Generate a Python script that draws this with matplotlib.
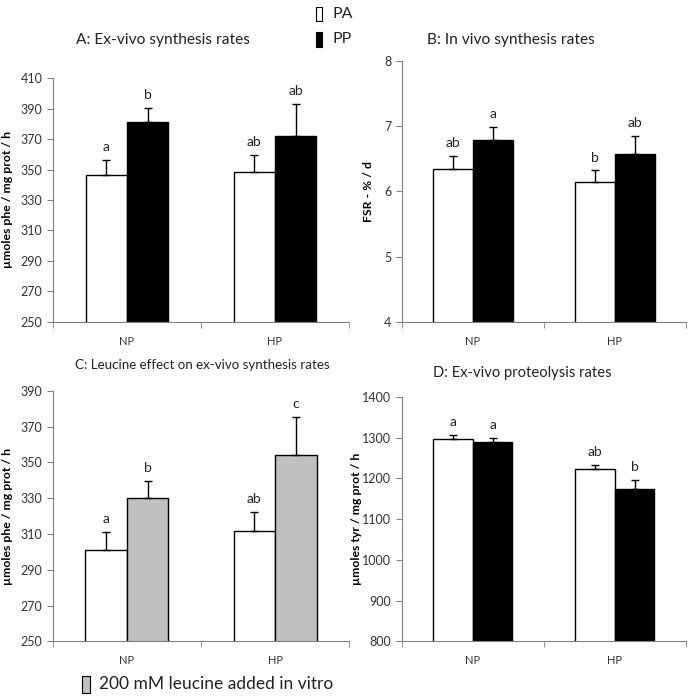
import numpy as np
import matplotlib
matplotlib.use("Agg")
import matplotlib.pyplot as plt
from matplotlib.patches import Rectangle

plt.rcParams['font.family'] = ['Lato', 'DejaVu Sans']

groups = ['NP', 'HP']

# A: ex-vivo synthesis
a_pa = [346.5, 348.3]
a_pa_err = [9.5, 11.0]
a_pp = [381.0, 372.0]
a_pp_err = [9.5, 21.0]
a_lab_pa = ['a', 'ab']
a_lab_pp = ['b', 'ab']

# B: in vivo synthesis
b_pa = [6.35, 6.14]
b_pa_err = [0.19, 0.18]
b_pp = [6.78, 6.58]
b_pp_err = [0.21, 0.27]
b_lab_pa = ['ab', 'b']
b_lab_pp = ['a', 'ab']

# C: leucine effect
c_pa = [301.0, 311.8]
c_pa_err = [10.2, 10.3]
c_leu = [330.0, 354.3]
c_leu_err = [9.6, 21.2]
c_lab_pa = ['a', 'ab']
c_lab_leu = ['b', 'c']

# D: proteolysis
d_pa = [1296, 1223]
d_pa_err = [10, 11]
d_pp = [1289, 1174]
d_pp_err = [10, 22]
d_lab_pa = ['a', 'ab']
d_lab_pp = ['a', 'b']

fig = plt.figure(figsize=(6.89, 6.96), dpi=100)
W, H = 689.0, 696.0

w = 0.28
grey = '#808080'


def panel(rect, left_vals, left_err, left_lab, right_vals, right_err, right_lab,
          right_color, ylim, step, ylabel, title, tx, ty, tsize):
    ax = fig.add_axes(rect)
    x = np.arange(len(groups))
    ax.bar(x - w / 2, left_vals, w, color='white', edgecolor='black', linewidth=1.0, zorder=2)
    ax.bar(x + w / 2, right_vals, w, color=right_color, edgecolor='black', linewidth=1.0, zorder=2)
    ax.errorbar(x - w / 2, left_vals, yerr=[np.zeros(2), left_err], fmt='none',
                ecolor='black', elinewidth=1.0, capsize=3, capthick=1.0, zorder=3)
    ax.errorbar(x + w / 2, right_vals, yerr=[np.zeros(2), right_err], fmt='none',
                ecolor='black', elinewidth=1.0, capsize=3, capthick=1.0, zorder=3)
    for i in range(len(groups)):
        ax.annotate(left_lab[i], (x[i] - w / 2, left_vals[i] + left_err[i]),
                    xytext=(0, 5), textcoords='offset points', ha='center', va='bottom',
                    fontsize=10, color='#222222')
        ax.annotate(right_lab[i], (x[i] + w / 2, right_vals[i] + right_err[i]),
                    xytext=(0, 5), textcoords='offset points', ha='center', va='bottom',
                    fontsize=10, color='#222222')
    ax.set_xlim(-0.5, 1.5)
    ax.set_ylim(*ylim)
    ax.set_yticks(np.arange(ylim[0], ylim[1] + step / 2, step))
    ax.set_xticks(x)
    ax.set_xticklabels(groups)
    ax.set_xticks([-0.5, 0.5, 1.5], minor=True)
    ax.tick_params(axis='x', which='major', length=0, pad=10, labelsize=8, labelcolor='#333333')
    ax.tick_params(axis='x', which='minor', length=4, color=grey)
    ax.tick_params(axis='y', length=4, color=grey, labelsize=9, labelcolor='#333333')
    for s in ['top', 'right']:
        ax.spines[s].set_visible(False)
    for s in ['left', 'bottom']:
        ax.spines[s].set_color(grey)
    ax.set_ylabel(ylabel, fontsize=8.8, fontweight='bold')
    fig.text(tx / W, 1 - ty / H, title, ha='center', va='center',
             fontsize=tsize, color='#222222')
    return ax


axA = panel([0.0769, 0.5374, 0.4296, 0.3505], a_pa, a_pa_err, a_lab_pa, a_pp, a_pp_err, a_lab_pp,
            'black', (250, 410), 20, 'µmoles phe / mg prot / h', 'A: Ex-vivo synthesis rates',
            163, 40, 11.2)
axB = panel([0.5835, 0.5378, 0.4121, 0.3746], b_pa, b_pa_err, b_lab_pa, b_pp, b_pp_err, b_lab_pp,
            'black', (4, 8), 1, 'FSR - % / d', 'B: In vivo synthesis rates',
            511, 40, 11.2)
axC = panel([0.0765, 0.0786, 0.4305, 0.3600], c_pa, c_pa_err, c_lab_pa, c_leu, c_leu_err, c_lab_leu,
            '#c0c0c0', (250, 390), 20, 'µmoles phe / mg prot / h',
            'C: Leucine effect on ex-vivo synthesis rates', 202, 365, 9.6)
axD = panel([0.583, 0.0786, 0.4122, 0.3510], d_pa, d_pa_err, d_lab_pa, d_pp, d_pp_err, d_lab_pp,
            'black', (800, 1400), 100, 'µmoles tyr / mg prot / h', 'D: Ex-vivo proteolysis rates',
            522, 373, 10.6)
axA.yaxis.set_label_coords(-0.135, 0.5)
axC.yaxis.set_label_coords(-0.135, 0.5)
axB.yaxis.set_label_coords(-0.1, 0.5)
axD.yaxis.set_label_coords(-0.14, 0.5)

# top legend
fig.patches.append(Rectangle((316 / W, 1 - 21 / H), 6 / W, 14 / H, transform=fig.transFigure,
                             facecolor='white', edgecolor='black', linewidth=0.8))
fig.text(333 / W, 1 - 14 / H, 'PA', fontsize=11.5, va='center', ha='left', color='#222222')
fig.patches.append(Rectangle((316 / W, 1 - 47 / H), 6 / W, 15 / H, transform=fig.transFigure,
                             facecolor='black', edgecolor='black', linewidth=0.8))
fig.text(333 / W, 1 - 39 / H, 'PP', fontsize=11.5, va='center', ha='left', color='#222222')

# bottom legend
fig.patches.append(Rectangle((82 / W, 1 - 693 / H), 8 / W, 17 / H, transform=fig.transFigure,
                             facecolor='#c0c0c0', edgecolor='black', linewidth=0.8))
fig.text(99 / W, 1 - 684 / H, '200 mM leucine added in vitro', fontsize=12.5, va='center',
         ha='left', color='#222222')

fig.savefig('out.png', dpi=100)
